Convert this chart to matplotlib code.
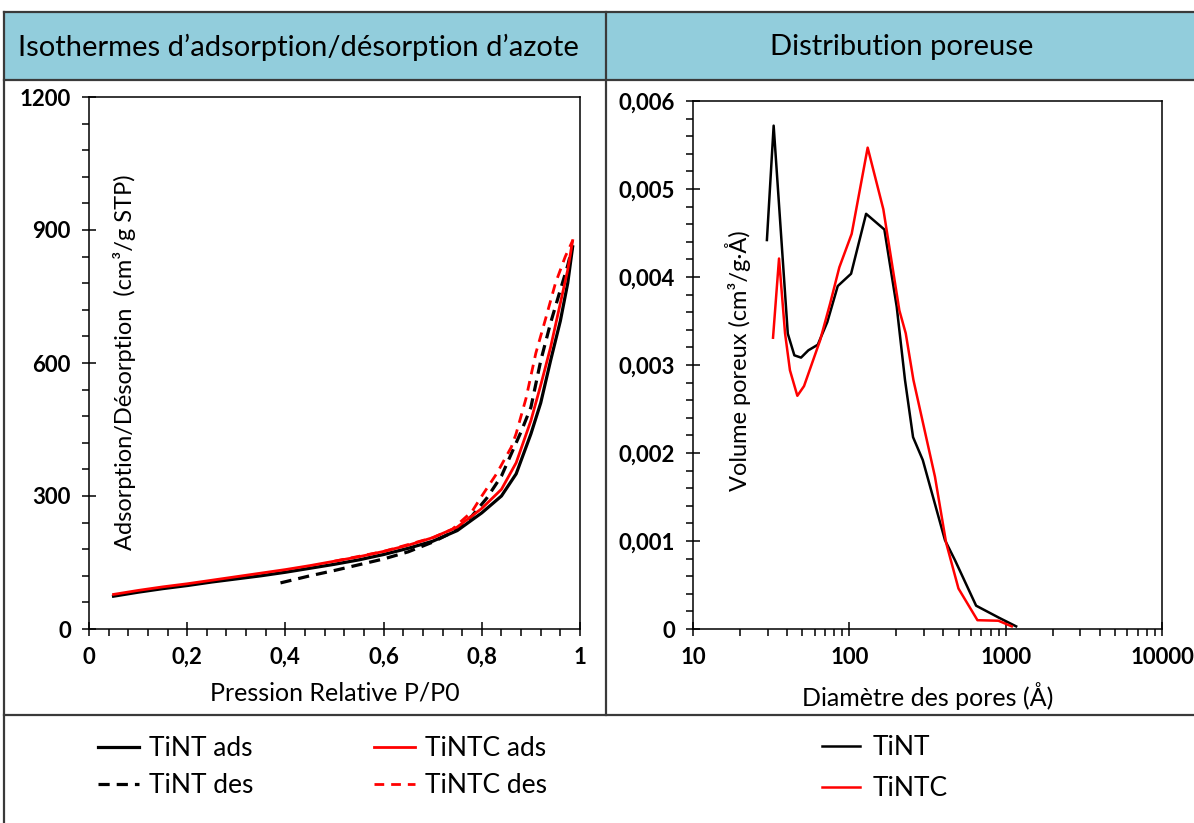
import matplotlib
matplotlib.use('Agg')
import matplotlib.pyplot as plt
from matplotlib.ticker import MultipleLocator, FuncFormatter, LogLocator, NullFormatter
from matplotlib.lines import Line2D
from matplotlib.patches import Rectangle

# ---------------- data ----------------
p_ads = [0.05, 0.1, 0.15, 0.2, 0.25, 0.3, 0.35, 0.4, 0.45, 0.5, 0.55, 0.6, 0.65,
         0.7, 0.75, 0.8, 0.84, 0.87, 0.9, 0.92, 0.94, 0.96, 0.975, 0.985]
tint_ads = [74, 83, 91, 98, 106, 113, 120, 128, 137, 146, 156, 168, 182,
            198, 222, 262, 300, 350, 440, 510, 605, 695, 780, 862]
tintc_ads = [78, 87, 95, 102, 110, 118, 126, 134, 143, 153, 163, 175, 189,
             206, 230, 272, 315, 375, 470, 550, 635, 735, 810, 876]

p_des_tint = [0.39, 0.45, 0.5, 0.55, 0.6, 0.65, 0.7, 0.74, 0.78, 0.81, 0.84,
              0.88, 0.9, 0.92, 0.94, 0.96, 0.975, 0.985]
tint_des = [104, 120, 132, 145, 158, 174, 196, 218, 255, 295, 345,
            445, 500, 605, 690, 765, 820, 865]

p_des_tintc = [0.5, 0.6, 0.7, 0.74, 0.78, 0.8, 0.83, 0.86, 0.87, 0.89, 0.91,
               0.93, 0.95, 0.97, 0.985]
tintc_des = [153, 175, 206, 225, 265, 300, 350, 410, 441, 520, 622,
             700, 780, 840, 876]

d_tint = [29.7, 32.8, 40.4, 44.5, 49.1, 54.7, 62.8, 72.3, 84.3, 102.6, 128,
          167.5, 201, 227, 255.6, 295, 409, 474.6, 647, 904, 1167]
v_tint = [0.00442, 0.00572, 0.003356, 0.00311, 0.003084, 0.003167, 0.00323,
          0.003488, 0.003897, 0.004037, 0.004718, 0.00454, 0.00366, 0.00283,
          0.00218, 0.00192, 0.00101, 0.00078, 0.000265, 0.000129, 0.00003]

d_tintc = [32.5, 35.5, 38.8, 41.7, 46.5, 51.3, 65, 75.4, 86.3, 103.5, 131,
           165, 209, 229.5, 257, 353, 416, 499, 660, 898, 1094]
v_tintc = [0.00331, 0.00421, 0.00336, 0.00294, 0.00265, 0.00276, 0.00328,
           0.0037, 0.00411, 0.00449, 0.00547, 0.00477, 0.00362, 0.00336,
           0.00283, 0.00173, 0.00098, 0.00046, 0.0001, 0.000094, 0.00003]

header_left = "Isothermes d’adsorption/désorption d’azote"
header_right = "Distribution poreuse"

# ---------------- figure ----------------
W, H = 1194, 823
fig = plt.figure(figsize=(W / 100, H / 100), dpi=100)

def fx(px):
    return px / W

def fy(py):
    return 1 - py / H

NARROW = ['Liberation Sans Narrow', 'DejaVu Sans Condensed', 'Lato', 'DejaVu Sans']
BODY = ['Lato', 'DejaVu Sans']

# table background / lines
fig.add_artist(Rectangle((fx(4), fy(80)), 1 - fx(4), fy(12) - fy(80),
                         transform=fig.transFigure, facecolor='#92CDDC',
                         edgecolor='none', zorder=0))
lc = '#3a3a3a'
for (x0, x1, y0, y1) in [(4, W, 12, 12), (4, W, 80, 80), (4, W, 715, 715),
                         (4, 4, 12, H), (606, 606, 12, 715)]:
    fig.add_artist(Line2D([fx(x0), fx(x1)], [fy(y0), fy(y1)],
                          transform=fig.transFigure, color=lc, lw=1.6, zorder=1))

fig.text(fx(298), fy(47), header_left, ha='center', va='center',
         fontsize=21, family=NARROW)
fig.text(fx(902), fy(47), header_right, ha='center', va='center',
         fontsize=21, family=NARROW)

def style_axes(ax):
    for s in ax.spines.values():
        s.set_linewidth(1.1)
        s.set_color('black')
    ax.tick_params(which='major', direction='inout', length=10, width=1.1,
                   pad=8, labelsize=16)
    ax.tick_params(which='minor', direction='out', length=5, width=1.1)
    ax.tick_params(top=False, right=False, which='both')
    for lab in ax.get_xticklabels() + ax.get_yticklabels():
        lab.set_fontweight('bold')
        lab.set_family(BODY)

def comma(v, pos):
    if abs(v) < 1e-12:
        return '0'
    s = ('%g' % round(v, 6)).replace('.', ',')
    return s

# ---------------- left axes ----------------
ax1 = fig.add_axes([fx(89), fy(629), (580 - 89) / W, (629 - 97) / H])
ax1.plot(p_ads, tint_ads, color='black', lw=2.3, label='TiNT ads')
ax1.plot(p_des_tint, tint_des, color='black', lw=2.3, ls=(0, (3.5, 2.2)),
         label='TiNT des')
ax1.plot(p_ads, tintc_ads, color='#FF0000', lw=2.0, label='TiNTC ads')
ax1.plot(p_des_tintc, tintc_des, color='#FF0000', lw=2.0, ls=(0, (3.5, 2.5)),
         label='TiNTC des')
ax1.set_xlim(0, 1)
ax1.set_ylim(0, 1200)
ax1.xaxis.set_major_locator(MultipleLocator(0.2))
ax1.xaxis.set_minor_locator(MultipleLocator(0.04))
ax1.yaxis.set_major_locator(MultipleLocator(300))
ax1.yaxis.set_minor_locator(MultipleLocator(60))
ax1.xaxis.set_major_formatter(FuncFormatter(comma))
style_axes(ax1)
ax1.set_xlabel('Pression Relative P/P0', fontsize=18, family=BODY, labelpad=10)
ax1.text(0.073, 0.502, 'Adsorption/Désorption  (cm³/g STP)', transform=ax1.transAxes,
         rotation=90, ha='center', va='center', fontsize=17, family=BODY)

ax1.legend(ncol=2, loc='upper left', bbox_to_anchor=(fx(98), fy(736)),
           bbox_transform=fig.transFigure, frameon=False,
           prop={'family': NARROW, 'size': 19}, handlelength=1.55,
           handletextpad=0.4, columnspacing=4.55, labelspacing=0.46,
           borderaxespad=0, borderpad=0)

# ---------------- right axes ----------------
ax2 = fig.add_axes([fx(693), fy(629), (1162 - 693) / W, (629 - 101) / H])
ax2.plot(d_tint, v_tint, color='black', lw=1.8, label='TiNT')
ax2.plot(d_tintc, v_tintc, color='#FF0000', lw=1.8, label='TiNTC')
ax2.set_xscale('log')
ax2.set_xlim(10, 10000)
ax2.set_ylim(0, 0.006)
ax2.xaxis.set_major_locator(LogLocator(base=10, numticks=10))
ax2.xaxis.set_minor_locator(LogLocator(base=10, subs=range(2, 10), numticks=20))
ax2.xaxis.set_minor_formatter(NullFormatter())
ax2.xaxis.set_major_formatter(FuncFormatter(lambda v, p: '%d' % round(v)))
ax2.yaxis.set_major_locator(MultipleLocator(0.001))
ax2.yaxis.set_minor_locator(MultipleLocator(0.0002))
ax2.yaxis.set_major_formatter(FuncFormatter(comma))
style_axes(ax2)
ax2.set_xlabel('Diamètre des pores (Å)', fontsize=18, family=BODY, labelpad=10)
ax2.text(0.096, 0.508, 'Volume poreux (cm³/g·Å)', transform=ax2.transAxes,
         rotation=90, ha='center', va='center', fontsize=17, family=BODY)

ax2.legend(loc='upper left', bbox_to_anchor=(fx(822), fy(735)),
           bbox_transform=fig.transFigure, frameon=False,
           prop={'family': NARROW, 'size': 19}, handlelength=1.45,
           handletextpad=0.45, labelspacing=0.6,
           borderaxespad=0, borderpad=0)

fig.savefig('out.png', dpi=100)
